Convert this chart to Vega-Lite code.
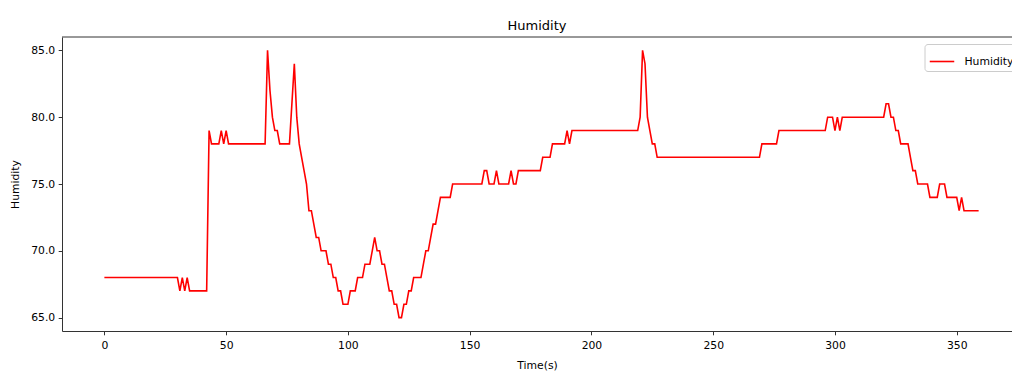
{
"$schema": "https://vega.github.io/schema/vega-lite/v6.json",
"width": 950,
"height": 294,
"autosize": {"type": "none"},
"padding": {"left": 62, "top": 37, "right": 0, "bottom": 41},
"title": {"text": "Humidity", "fontSize": 13, "font": "DejaVu Sans", "fontWeight": "normal", "color": "#000", "offset": 4},
"data": {"values": [
{"t":0,"h":68},{"t":1,"h":68},{"t":2,"h":68},{"t":3,"h":68},{"t":4,"h":68},{"t":5,"h":68},{"t":6,"h":68},{"t":7,"h":68},{"t":8,"h":68},{"t":9,"h":68},
{"t":10,"h":68},{"t":11,"h":68},{"t":12,"h":68},{"t":13,"h":68},{"t":14,"h":68},{"t":15,"h":68},{"t":16,"h":68},{"t":17,"h":68},{"t":18,"h":68},{"t":19,"h":68},
{"t":20,"h":68},{"t":21,"h":68},{"t":22,"h":68},{"t":23,"h":68},{"t":24,"h":68},{"t":25,"h":68},{"t":26,"h":68},{"t":27,"h":68},{"t":28,"h":68},{"t":29,"h":68},
{"t":30,"h":68},{"t":31,"h":67},{"t":32,"h":68},{"t":33,"h":67},{"t":34,"h":68},{"t":35,"h":67},{"t":36,"h":67},{"t":37,"h":67},{"t":38,"h":67},{"t":39,"h":67},
{"t":40,"h":67},{"t":41,"h":67},{"t":42,"h":67},{"t":43,"h":79},{"t":44,"h":78},{"t":45,"h":78},{"t":46,"h":78},{"t":47,"h":78},{"t":48,"h":79},{"t":49,"h":78},
{"t":50,"h":79},{"t":51,"h":78},{"t":52,"h":78},{"t":53,"h":78},{"t":54,"h":78},{"t":55,"h":78},{"t":56,"h":78},{"t":57,"h":78},{"t":58,"h":78},{"t":59,"h":78},
{"t":60,"h":78},{"t":61,"h":78},{"t":62,"h":78},{"t":63,"h":78},{"t":64,"h":78},{"t":65,"h":78},{"t":66,"h":78},{"t":67,"h":85},{"t":68,"h":82},{"t":69,"h":80},
{"t":70,"h":79},{"t":71,"h":79},{"t":72,"h":78},{"t":73,"h":78},{"t":74,"h":78},{"t":75,"h":78},{"t":76,"h":78},{"t":77,"h":81},{"t":78,"h":84},{"t":79,"h":80},
{"t":80,"h":78},{"t":81,"h":77},{"t":82,"h":76},{"t":83,"h":75},{"t":84,"h":73},{"t":85,"h":73},{"t":86,"h":72},{"t":87,"h":71},{"t":88,"h":71},{"t":89,"h":70},
{"t":90,"h":70},{"t":91,"h":70},{"t":92,"h":69},{"t":93,"h":69},{"t":94,"h":68},{"t":95,"h":68},{"t":96,"h":67},{"t":97,"h":67},{"t":98,"h":66},{"t":99,"h":66},
{"t":100,"h":66},{"t":101,"h":67},{"t":102,"h":67},{"t":103,"h":67},{"t":104,"h":68},{"t":105,"h":68},{"t":106,"h":68},{"t":107,"h":69},{"t":108,"h":69},{"t":109,"h":69},
{"t":110,"h":70},{"t":111,"h":71},{"t":112,"h":70},{"t":113,"h":70},{"t":114,"h":69},{"t":115,"h":69},{"t":116,"h":68},{"t":117,"h":67},{"t":118,"h":67},{"t":119,"h":66},
{"t":120,"h":66},{"t":121,"h":65},{"t":122,"h":65},{"t":123,"h":66},{"t":124,"h":66},{"t":125,"h":67},{"t":126,"h":67},{"t":127,"h":68},{"t":128,"h":68},{"t":129,"h":68},
{"t":130,"h":68},{"t":131,"h":69},{"t":132,"h":70},{"t":133,"h":70},{"t":134,"h":71},{"t":135,"h":72},{"t":136,"h":72},{"t":137,"h":73},{"t":138,"h":74},{"t":139,"h":74},
{"t":140,"h":74},{"t":141,"h":74},{"t":142,"h":74},{"t":143,"h":75},{"t":144,"h":75},{"t":145,"h":75},{"t":146,"h":75},{"t":147,"h":75},{"t":148,"h":75},{"t":149,"h":75},
{"t":150,"h":75},{"t":151,"h":75},{"t":152,"h":75},{"t":153,"h":75},{"t":154,"h":75},{"t":155,"h":75},{"t":156,"h":76},{"t":157,"h":76},{"t":158,"h":75},{"t":159,"h":75},
{"t":160,"h":75},{"t":161,"h":76},{"t":162,"h":75},{"t":163,"h":75},{"t":164,"h":75},{"t":165,"h":75},{"t":166,"h":75},{"t":167,"h":76},{"t":168,"h":75},{"t":169,"h":75},
{"t":170,"h":76},{"t":171,"h":76},{"t":172,"h":76},{"t":173,"h":76},{"t":174,"h":76},{"t":175,"h":76},{"t":176,"h":76},{"t":177,"h":76},{"t":178,"h":76},{"t":179,"h":76},
{"t":180,"h":77},{"t":181,"h":77},{"t":182,"h":77},{"t":183,"h":77},{"t":184,"h":78},{"t":185,"h":78},{"t":186,"h":78},{"t":187,"h":78},{"t":188,"h":78},{"t":189,"h":78},
{"t":190,"h":79},{"t":191,"h":78},{"t":192,"h":79},{"t":193,"h":79},{"t":194,"h":79},{"t":195,"h":79},{"t":196,"h":79},{"t":197,"h":79},{"t":198,"h":79},{"t":199,"h":79},
{"t":200,"h":79},{"t":201,"h":79},{"t":202,"h":79},{"t":203,"h":79},{"t":204,"h":79},{"t":205,"h":79},{"t":206,"h":79},{"t":207,"h":79},{"t":208,"h":79},{"t":209,"h":79},
{"t":210,"h":79},{"t":211,"h":79},{"t":212,"h":79},{"t":213,"h":79},{"t":214,"h":79},{"t":215,"h":79},{"t":216,"h":79},{"t":217,"h":79},{"t":218,"h":79},{"t":219,"h":79},
{"t":220,"h":80},{"t":221,"h":85},{"t":222,"h":84},{"t":223,"h":80},{"t":224,"h":79},{"t":225,"h":78},{"t":226,"h":78},{"t":227,"h":77},{"t":228,"h":77},{"t":229,"h":77},
{"t":230,"h":77},{"t":231,"h":77},{"t":232,"h":77},{"t":233,"h":77},{"t":234,"h":77},{"t":235,"h":77},{"t":236,"h":77},{"t":237,"h":77},{"t":238,"h":77},{"t":239,"h":77},
{"t":240,"h":77},{"t":241,"h":77},{"t":242,"h":77},{"t":243,"h":77},{"t":244,"h":77},{"t":245,"h":77},{"t":246,"h":77},{"t":247,"h":77},{"t":248,"h":77},{"t":249,"h":77},
{"t":250,"h":77},{"t":251,"h":77},{"t":252,"h":77},{"t":253,"h":77},{"t":254,"h":77},{"t":255,"h":77},{"t":256,"h":77},{"t":257,"h":77},{"t":258,"h":77},{"t":259,"h":77},
{"t":260,"h":77},{"t":261,"h":77},{"t":262,"h":77},{"t":263,"h":77},{"t":264,"h":77},{"t":265,"h":77},{"t":266,"h":77},{"t":267,"h":77},{"t":268,"h":77},{"t":269,"h":77},
{"t":270,"h":78},{"t":271,"h":78},{"t":272,"h":78},{"t":273,"h":78},{"t":274,"h":78},{"t":275,"h":78},{"t":276,"h":78},{"t":277,"h":79},{"t":278,"h":79},{"t":279,"h":79},
{"t":280,"h":79},{"t":281,"h":79},{"t":282,"h":79},{"t":283,"h":79},{"t":284,"h":79},{"t":285,"h":79},{"t":286,"h":79},{"t":287,"h":79},{"t":288,"h":79},{"t":289,"h":79},
{"t":290,"h":79},{"t":291,"h":79},{"t":292,"h":79},{"t":293,"h":79},{"t":294,"h":79},{"t":295,"h":79},{"t":296,"h":79},{"t":297,"h":80},{"t":298,"h":80},{"t":299,"h":80},
{"t":300,"h":79},{"t":301,"h":80},{"t":302,"h":79},{"t":303,"h":80},{"t":304,"h":80},{"t":305,"h":80},{"t":306,"h":80},{"t":307,"h":80},{"t":308,"h":80},{"t":309,"h":80},
{"t":310,"h":80},{"t":311,"h":80},{"t":312,"h":80},{"t":313,"h":80},{"t":314,"h":80},{"t":315,"h":80},{"t":316,"h":80},{"t":317,"h":80},{"t":318,"h":80},{"t":319,"h":80},
{"t":320,"h":80},{"t":321,"h":81},{"t":322,"h":81},{"t":323,"h":80},{"t":324,"h":80},{"t":325,"h":79},{"t":326,"h":79},{"t":327,"h":78},{"t":328,"h":78},{"t":329,"h":78},
{"t":330,"h":78},{"t":331,"h":77},{"t":332,"h":76},{"t":333,"h":76},{"t":334,"h":75},{"t":335,"h":75},{"t":336,"h":75},{"t":337,"h":75},{"t":338,"h":75},{"t":339,"h":74},
{"t":340,"h":74},{"t":341,"h":74},{"t":342,"h":74},{"t":343,"h":75},{"t":344,"h":75},{"t":345,"h":75},{"t":346,"h":74},{"t":347,"h":74},{"t":348,"h":74},{"t":349,"h":74},
{"t":350,"h":74},{"t":351,"h":73},{"t":352,"h":74},{"t":353,"h":73},{"t":354,"h":73},{"t":355,"h":73},{"t":356,"h":73},{"t":357,"h":73},{"t":358,"h":73},{"t":359,"h":73}
]},
"layer": [
{
"data": {"values": [{}]},
"mark": {"type": "rule", "color": "#333", "strokeWidth": 1},
"encoding": {"y": {"datum": 86, "type": "quantitative", "scale": {"domain": [64, 86], "nice": false, "zero": false}}}
},
{
"mark": {"type": "line", "strokeWidth": 1.6},
"encoding": {
"x": {"field": "t", "type": "quantitative",
"scale": {"domain": [-17.4, 372.7], "nice": false, "zero": false},
"axis": {"values": [0,50,100,150,200,250,300,350], "title": "Time(s)", "grid": false, "tickSize": 3.8, "labelPadding": 5,
"domainColor": "#333", "tickColor": "#333", "labelColor": "#000", "labelFontSize": 10.8, "titleFontSize": 10.8,
"titleFontWeight": "normal", "titleColor": "#000", "titlePadding": 9, "labelFlush": false}},
"y": {"field": "h", "type": "quantitative",
"scale": {"domain": [64, 86], "nice": false, "zero": false},
"axis": {"values": [65,67.5,70,72.5,75,77.5,80,82.5,85], "format": ".1f", "title": "Humidity", "grid": false, "tickSize": 3.8, "labelPadding": 3.5,
"domainColor": "#333", "tickColor": "#333", "labelColor": "#000", "labelFontSize": 10.8, "titleFontSize": 10.8,
"titleFontWeight": "normal", "titleColor": "#000", "titlePadding": 10}},
"color": {"datum": "Humidity", "type": "nominal", "scale": {"range": ["#ff0000"]},
"legend": {"orient": "none", "legendX": 862.5, "legendY": 7, "title": null, "symbolType": "stroke", "symbolSize": 600,
"symbolStrokeWidth": 1.6, "labelFontSize": 10.8, "labelColor": "#000", "padding": 4, "strokeColor": "#cccccc",
"fillColor": "rgba(255,255,255,0.8)", "cornerRadius": 3, "labelOffset": 9}}
}
}
],
"config": {"view": {"stroke": null}, "font": "DejaVu Sans", "axis": {"labelFont": "DejaVu Sans", "titleFont": "DejaVu Sans"}, "legend": {"labelFont": "DejaVu Sans"}}
}
